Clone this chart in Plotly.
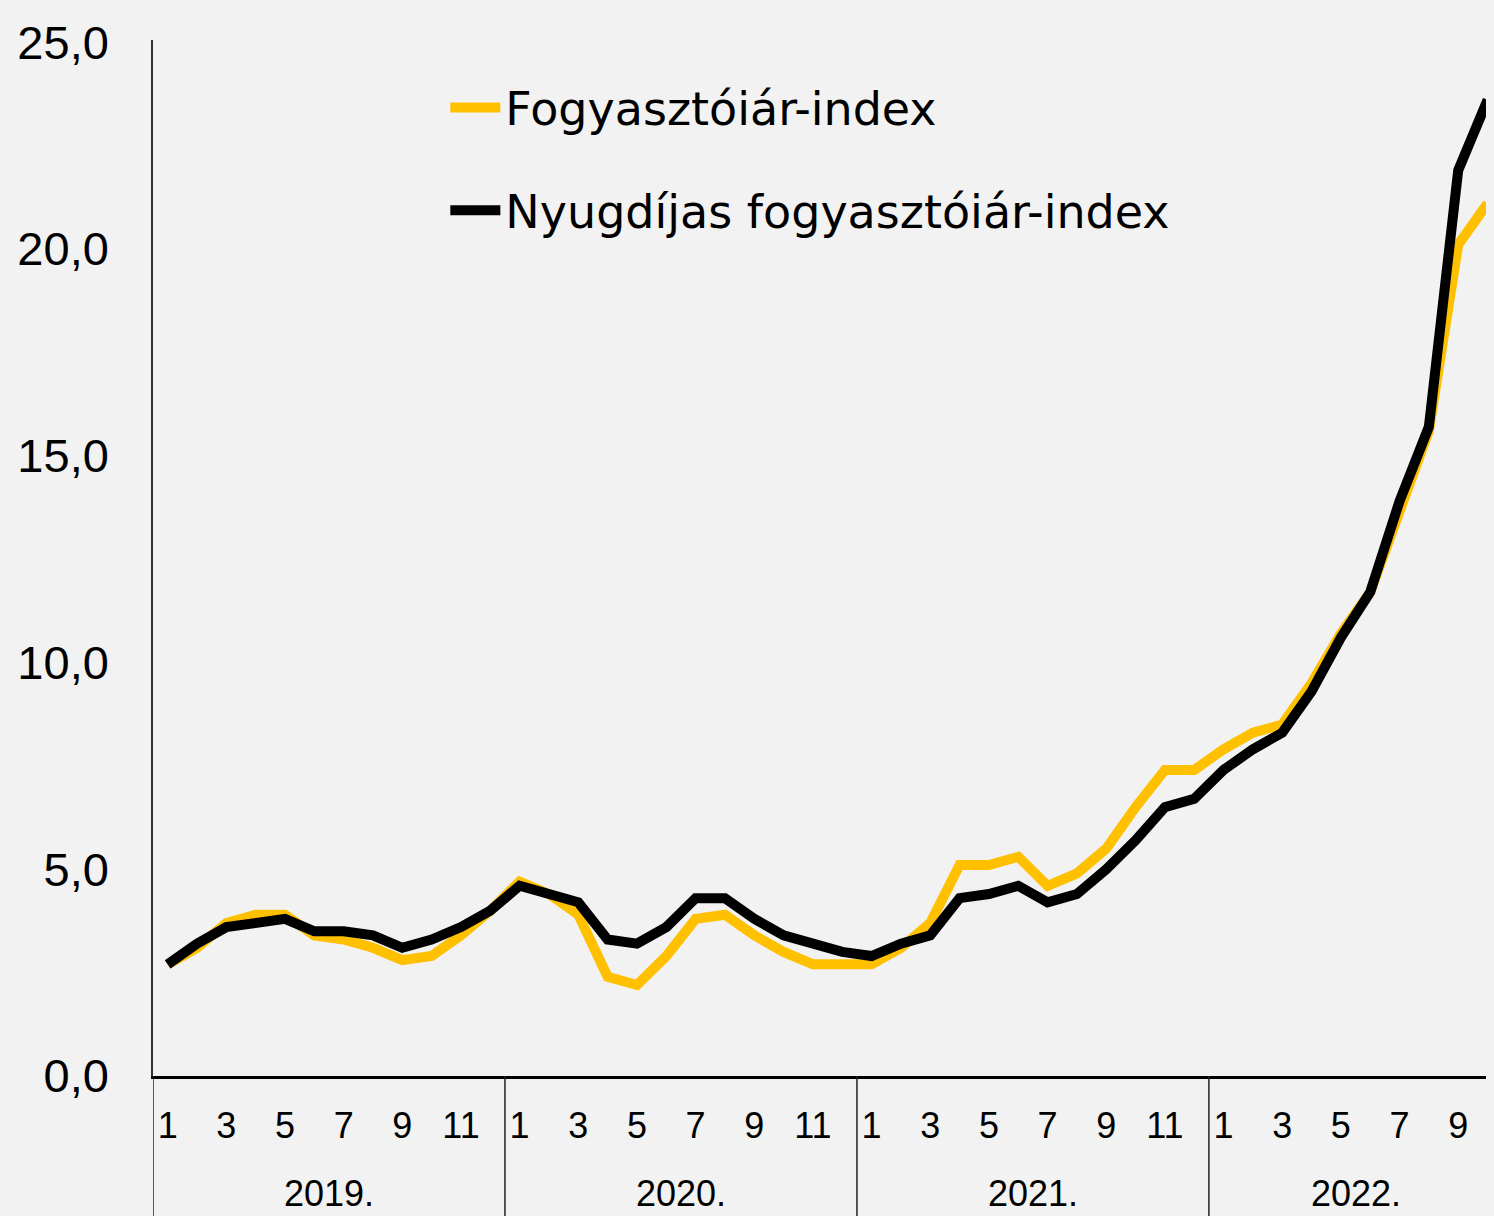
import plotly.graph_objects as go

# havi adatok, 2019.01 - 2022.10, előző év azonos hónapjához képest (%)
years = ['2019.', '2020.', '2021.', '2022.']
months_per_year = [12, 12, 12, 10]

cpi = [2.7, 3.1, 3.7, 3.9, 3.9, 3.4, 3.3, 3.1, 2.8, 2.9, 3.4, 4.0,
       4.7, 4.4, 3.9, 2.4, 2.2, 2.9, 3.8, 3.9, 3.4, 3.0, 2.7, 2.7,
       2.7, 3.1, 3.7, 5.1, 5.1, 5.3, 4.6, 4.9, 5.5, 6.5, 7.4, 7.4,
       7.9, 8.3, 8.5, 9.5, 10.7, 11.7, 13.7, 15.6, 20.1, 21.1]

pension_cpi = [2.7, 3.2, 3.6, 3.7, 3.8, 3.5, 3.5, 3.4, 3.1, 3.3, 3.6, 4.0,
               4.6, 4.4, 4.2, 3.3, 3.2, 3.6, 4.3, 4.3, 3.8, 3.4, 3.2, 3.0,
               2.9, 3.2, 3.4, 4.3, 4.4, 4.6, 4.2, 4.4, 5.0, 5.7, 6.5, 6.7,
               7.4, 7.9, 8.3, 9.3, 10.6, 11.7, 13.9, 15.7, 21.9, 23.6]

names = ['Fogyasztóiár-index', 'Nyugdíjas fogyasztóiár-index']
colors = ['#FFC000', '#000000']

# x tengely: sorszám, hónap címkék
x = list(range(len(cpi)))
month_nums = []
for n in months_per_year:
    month_nums += list(range(1, n + 1))
tick_idx = [i for i, m in enumerate(month_nums) if m % 2 == 1]
tick_txt = [str(month_nums[i]) for i in tick_idx]

fig = go.Figure()
for i, (name, vals) in enumerate(zip(names, [cpi, pension_cpi])):
    fig.add_trace(go.Scatter(
        x=x, y=vals, mode='lines', name=name, legendgroup=name,
        line=dict(color=colors[i], width=10),
    ))

# évek elválasztói és címkéi
start = 0
bounds = [-0.5]
for yr, n in zip(years, months_per_year):
    fig.add_annotation(
        x=start + (n - 1) / 2, y=-0.113, xref='x', yref='paper',
        text=yr, showarrow=False, font=dict(size=36, color='#000000'),
        yanchor='middle',
    )
    start += n
    bounds.append(start - 0.5)

for b in bounds[:-1]:
    fig.add_shape(type='line', x0=b, x1=b, y0=0, y1=-0.14, xref='x', yref='paper',
                  line=dict(color='#222222', width=1.5))

fig.update_layout(
    width=1486, height=1208,
    margin=dict(l=145, r=0, t=32, b=140),
    paper_bgcolor='#F2F2F2',
    plot_bgcolor='#F2F2F2',
    font=dict(family='Liberation Sans', color='#000000'),
    showlegend=True,
    legend=dict(
        x=0.218, y=0.97, xanchor='left', yanchor='top',
        font=dict(family='DejaVu Sans', size=46, color='#000000'),
        bgcolor='rgba(0,0,0,0)', tracegroupgap=40, itemwidth=50,
    ),
    xaxis=dict(
        range=[-0.5, 45.22],
        tickmode='array', tickvals=tick_idx, ticktext=tick_txt,
        tickfont=dict(size=36), ticks='', ticklabelstandoff=16,
        showgrid=False, zeroline=False,
        showline=True, linecolor='#000000', linewidth=2.5,
    ),
    yaxis=dict(
        range=[0, 25.05],
        tickvals=[0, 5, 10, 15, 20, 25], tickformat='.1f',
        tickfont=dict(size=47), ticks='', ticklabelstandoff=33,
        showgrid=False, zeroline=False,
        showline=True, linecolor='#333333', linewidth=1.5,
    ),
    separators=',.',
)

fig.write_html('out.html', post_script="document.body.style.background='#F2F2F2';")
